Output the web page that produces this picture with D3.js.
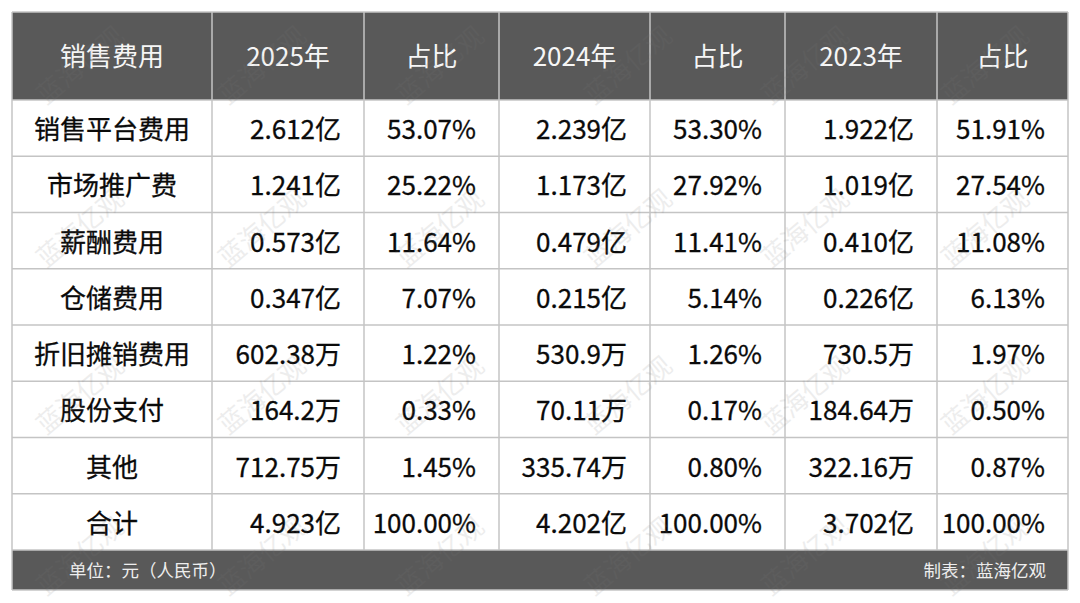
<html>
<head>
<meta charset="utf-8">
<script src="https://d3js.org/d3.v7.min.js"></script>
<style>
body { margin: 0; background: #fff; }
svg { display: block; font-family: "Noto Sans CJK SC", "Noto Sans", sans-serif; }
.head { fill: #f6f6f6; font-size: 26px; }
.cell { fill: #0a0a0a; font-size: 26px; stroke: #0a0a0a; stroke-width: 0.3px; }
.grid { stroke: #c4c4c4; stroke-width: 1.5px; fill: none; }
.foot { fill: #eeeeee; font-size: 17.5px; }
.wm { fill: #7a7a7a; opacity: 0.13; font-size: 26px; }
</style>
</head>
<body>
<svg id="chart" width="1080" height="603"></svg>
<script>
// table content
var headers = ["销售费用", "2025年", "占比", "2024年", "占比", "2023年", "占比"];
var categories = ["销售平台费用", "市场推广费", "薪酬费用", "仓储费用", "折旧摊销费用", "股份支付", "其他", "合计"];
var amt2025 = ["2.612亿", "1.241亿", "0.573亿", "0.347亿", "602.38万", "164.2万", "712.75万", "4.923亿"];
var pct2025 = ["53.07%", "25.22%", "11.64%", "7.07%", "1.22%", "0.33%", "1.45%", "100.00%"];
var amt2024 = ["2.239亿", "1.173亿", "0.479亿", "0.215亿", "530.9万", "70.11万", "335.74万", "4.202亿"];
var pct2024 = ["53.30%", "27.92%", "11.41%", "5.14%", "1.26%", "0.17%", "0.80%", "100.00%"];
var amt2023 = ["1.922亿", "1.019亿", "0.410亿", "0.226亿", "730.5万", "184.64万", "322.16万", "3.702亿"];
var pct2023 = ["51.91%", "27.54%", "11.08%", "6.13%", "1.97%", "0.50%", "0.87%", "100.00%"];
var footLeft = "单位：元（人民币）";
var footRight = "制表：蓝海亿观";
var watermark = "蓝海亿观";

var columns = [categories, amt2025, pct2025, amt2024, pct2024, amt2023, pct2023];

// layout
var tLeft = 12, tRight = 1068, tTop = 12, headBottom = 100, bodyBottom = 550, footBottom = 590;
var colWidths = [200, 152, 135, 151, 135, 152, 131];
var pad = 23;

var edges = [tLeft];
colWidths.forEach(function(w){ edges.push(edges[edges.length - 1] + w); });
edges[edges.length - 1] = tRight;

var chart = d3.select("#chart");

var y = d3.scaleBand()
    .domain(categories)
    .range([headBottom, bodyBottom]);

// header and footer bars
chart.append("rect")
    .attr("x", tLeft).attr("y", tTop)
    .attr("width", tRight - tLeft).attr("height", headBottom - tTop)
    .attr("fill", "#595959");
chart.append("rect")
    .attr("x", tLeft).attr("y", bodyBottom)
    .attr("width", tRight - tLeft).attr("height", footBottom - bodyBottom)
    .attr("fill", "#595959");

// header texts
chart.selectAll(".head").data(headers).enter()
    .append("text")
    .attr("class", "head")
    .attr("x", function(d, i){ return (edges[i] + edges[i + 1]) / 2; })
    .attr("y", (tTop + headBottom) / 2)
    .attr("dy", "0.4em")
    .attr("text-anchor", "middle")
    .text(function(d){ return d; });

// body cells
columns.forEach(function(col, ci){
    chart.append("g").selectAll("text").data(col).enter()
        .append("text")
        .attr("class", "cell")
        .attr("x", ci == 0 ? (edges[0] + edges[1]) / 2 : edges[ci + 1] - pad)
        .attr("y", function(d, i){ return y(categories[i]) + y.bandwidth() / 2; })
        .attr("dy", "0.42em")
        .attr("text-anchor", ci == 0 ? "middle" : "end")
        .text(function(d){ return d; });
});

// grid lines
var hLines = [tTop, headBottom].concat(categories.slice(1).map(function(c){ return y(c); })).concat([bodyBottom]);
chart.selectAll(".hl").data(hLines).enter()
    .append("line")
    .attr("class", "grid")
    .attr("x1", tLeft).attr("x2", tRight)
    .attr("y1", function(d){ return d; }).attr("y2", function(d){ return d; });
chart.selectAll(".vl").data(edges).enter()
    .append("line")
    .attr("class", "grid")
    .attr("x1", function(d){ return d; }).attr("x2", function(d){ return d; })
    .attr("y1", tTop).attr("y2", function(d, i){ return (i == 0 || i == edges.length - 1) ? footBottom : bodyBottom; });
chart.append("line").attr("class", "grid")
    .attr("x1", tLeft).attr("x2", tRight).attr("y1", footBottom).attr("y2", footBottom);

// footer
chart.append("text").attr("class", "foot")
    .attr("x", 69).attr("y", (bodyBottom + footBottom) / 2).attr("dy", "0.38em")
    .text(footLeft);
chart.append("text").attr("class", "foot")
    .attr("x", 1046).attr("y", (bodyBottom + footBottom) / 2).attr("dy", "0.38em")
    .attr("text-anchor", "end")
    .text(footRight);

// watermarks
var wmX = [80, 262, 440, 628, 805, 985];
var wmY = [65, 228, 395, 556];
wmY.forEach(function(yy){
    wmX.forEach(function(xx){
        chart.append("text").attr("class", "wm")
            .attr("text-anchor", "middle")
            .attr("transform", "translate(" + xx + "," + yy + ") rotate(-40)")
            .attr("dy", "0.36em")
            .text(watermark);
    });
});
</script>
</body>
</html>
